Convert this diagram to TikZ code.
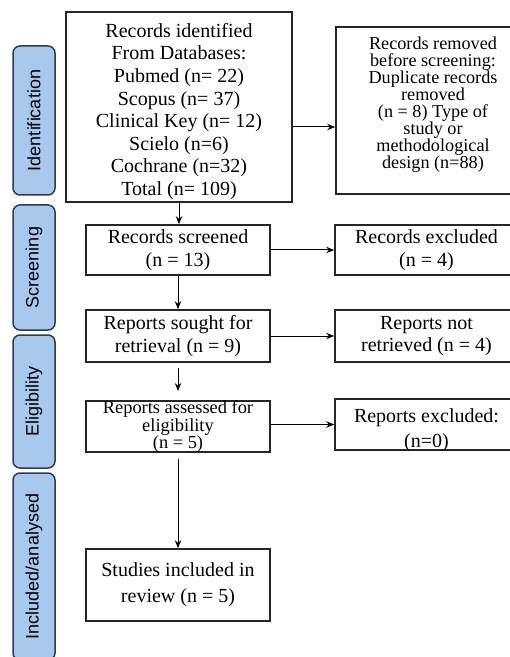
\documentclass[tikz,border=0pt]{standalone}
\usepackage{fontspec}
\setmainfont{Liberation Serif}
\setsansfont{Liberation Sans}
\usetikzlibrary{arrows.meta,positioning}
\definecolor{phasefill}{HTML}{A9C8EE}
\definecolor{phaseline}{HTML}{2F3B4A}

\begin{document}
\begin{tikzpicture}[x=0.5pt,y=-0.5pt,>={Stealth[length=4pt,width=3.2pt]},
	box/.style={draw=black!85,line width=0.8pt,inner sep=0pt,align=center,font=\fontsize{10}{11.3}\selectfont},
	leftbox/.style={box,minimum width=92pt},
	rightbox/.style={box,minimum width=91.5pt},
	boxtext/.style={align=center,inner sep=0pt},
	phase/.style={draw=phaseline,fill=phasefill,line width=0.75pt,rounded corners=3.5pt,rotate=90,minimum height=21pt,inner sep=0pt,font=\sffamily\fontsize{9}{10}\selectfont},
	arr/.style={->,line width=0.5pt},]
	\useasboundingbox (0,0) rectangle (509,657);
	% phases
	\node[phase,minimum width=74.5pt] (identification) at (34,120.5) {Identification};
	\node[phase,minimum width=62.5pt] (screening) at (34,267.5) {Screening};
	\node[phase,minimum width=66.5pt] (eligibility) at (34,401.5) {Eligibility};
	\node[phase,minimum width=93.5pt] (included) at (34,566.5) {Included/analysed};
	% boxes
	\node[box,minimum width=113pt,minimum height=95pt] (ident) at (179,107) {};
	\node[boxtext,font=\fontsize{10}{11.3}\selectfont] (identtext) at (179,111.5) {Records identified\\From Databases:\\Pubmed (n= 22)\\Scopus (n= 37)\\Clinical Key (n= 12)\\Scielo (n=6)\\Cochrane (n=32)\\Total (n= 109)};
	\node[box,minimum width=91pt,minimum height=83.5pt] (removed) at (427,110.5) {};
	\node[boxtext,font=\fontsize{9.1}{8.5}\selectfont] (removedtext) at (433,105) {Records removed\\before screening:\\Duplicate records\\removed\\(n = 8) Type of\\study or\\methodological\\design (n=88)};
	\node[leftbox,minimum height=25pt] (screened) at (178,250) {Records screened\\(n = 13)};
	\node[rightbox,minimum height=25pt] (excluded) at (426.5,250) {Records excluded\\(n = 4)};
	\node[leftbox,minimum height=26pt] (sought) at (178,336) {Reports sought for\\retrieval (n = 9)};
	\node[rightbox,minimum height=26pt] (notretrieved) at (426.5,336) {Reports not\\retrieved (n = 4)};
	\node[leftbox,minimum height=25.5pt,font=\fontsize{9.2}{8.6}\selectfont] (assessed) at (178,426.5) {Reports assessed for\\eligibility\\(n = 5)};
	\node[rightbox,minimum height=25.5pt] (exclreports) at (426.5,424.5) {};
	\node[boxtext,font=\fontsize{10}{12.5}\selectfont] (exclreportstext) at (426.5,430) {Reports excluded:\\(n=0)};
	\node[leftbox,minimum height=36pt,font=\fontsize{10}{13}\selectfont] (studies) at (178,585) {Studies included in\\review (n = 5)};
	% arrows
	\coordinate (idarrow) at (0,127);
	\draw[arr] (ident.east|-idarrow) -- (removed.west|-idarrow);
	\draw[arr] (ident.south) -- (ident.south|-screened.north);
	\draw[arr] (screened) -- (excluded);
	\draw[arr] (screened) -- (sought);
	\draw[arr] (sought) -- (notretrieved);
	\draw[arr,shorten <=2.5pt,shorten >=4.5pt] (sought) -- (assessed);
	\draw[arr] (assessed.east|-exclreports.west) -- (exclreports.west);
	\draw[arr,shorten <=3pt] (assessed) -- (studies);
\end{tikzpicture}
\end{document}
